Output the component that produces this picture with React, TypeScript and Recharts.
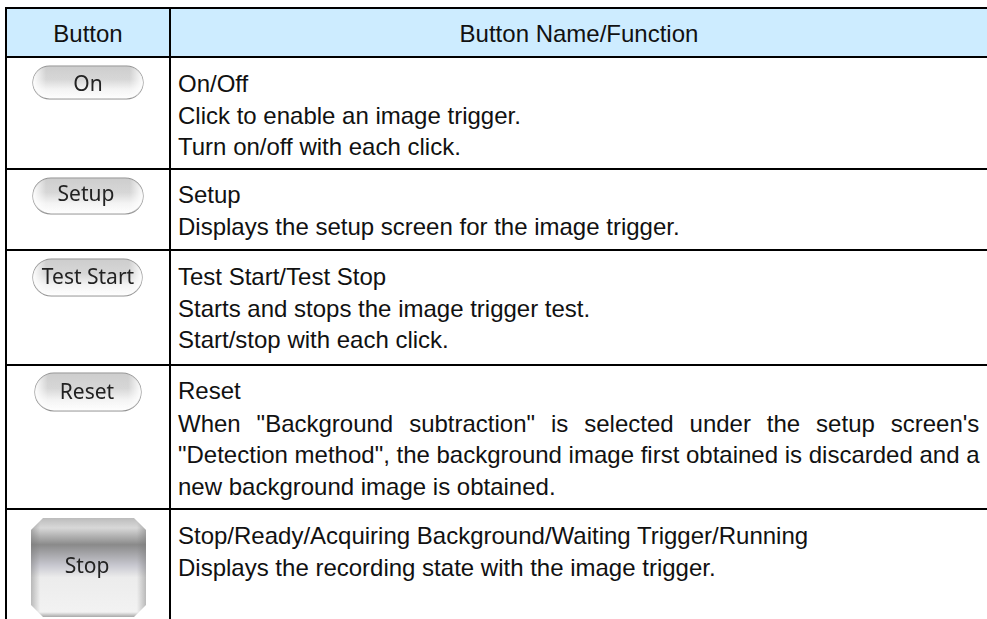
import React from "react";
import { ComposedChart, XAxis, YAxis, Scatter, ReferenceLine, ReferenceArea } from "recharts";

const W = 987;
const H = 619;

const headerLabels = ["Button", "Button Name/Function"];
const buttonLabels = ["On", "Setup", "Test Start", "Reset", "Stop"];
const descriptionLines = [
  "On/Off",
  "Click to enable an image trigger.",
  "Turn on/off with each click.",
  "Setup",
  "Displays the setup screen for the image trigger.",
  "Test Start/Test Stop",
  "Starts and stops the image trigger test.",
  "Start/stop with each click.",
  "Reset",
  "When \"Background subtraction\" is selected under the setup screen's",
  "\"Detection method\", the background image first obtained is discarded and a",
  "new background image is obtained.",
  "Stop/Ready/Acquiring Background/Waiting Trigger/Running",
  "Displays the recording state with the image trigger.",
];

// layout (image pixels; the axes run 1:1 with the picture)
const lineBaselines = [92, 124, 155, 203, 235, 285, 317, 348, 399, 432, 463, 495, 544, 576];
const rowRules = [8, 57, 169, 250, 365, 509];
const buttonBoxes = [
  { x0: 33, x1: 143, y0: 66, y1: 99, tx: 88, ty: 91 },
  { x0: 33, x1: 143, y0: 178, y1: 214, tx: 86, ty: 201 },
  { x0: 33, x1: 142, y0: 259, y1: 296, tx: 88, ty: 284 },
  { x0: 35, x1: 141, y0: 373, y1: 411, tx: 87, ty: 399 },
  { x0: 31, x1: 146, y0: 518, y1: 617, tx: 87, ty: 573 },
];

const textPoints = [
  ...descriptionLines.map((text, i) => ({
    x: 178,
    y: lineBaselines[i],
    text,
    anchor: "start",
    wordSpacing: i === 9 ? 9.25 : 0,
  })),
  { x: 88, y: 42, text: headerLabels[0], anchor: "middle", wordSpacing: 0 },
  { x: 579, y: 42, text: headerLabels[1], anchor: "middle", wordSpacing: 0 },
];

const buttonPoints = buttonLabels.map((label, i) => ({
  x: buttonBoxes[i].tx,
  y: buttonBoxes[i].ty,
  label,
  box: buttonBoxes[i],
}));

const TextShape = (p: any) => {
  const d = p.payload;
  return (
    <text
      x={p.cx}
      y={p.cy}
      textAnchor={d.anchor}
      fontFamily="'Liberation Sans', Arial, sans-serif"
      fontSize={24}
      fill="#111"
      style={{ wordSpacing: d.wordSpacing }}
    >
      {d.text}
    </text>
  );
};

const ButtonShape = (p: any) => {
  const d = p.payload;
  const b = d.box;
  const dx = p.cx - d.x;
  const dy = p.cy - d.y;
  const x = b.x0 + dx;
  const y = b.y0 + dy;
  const w = b.x1 - b.x0;
  const h = b.y1 - b.y0;
  const isStop = d.label === "Stop";
  const labelNode = (
    <text
      x={p.cx}
      y={p.cy}
      textAnchor="middle"
      fontFamily="'Noto Sans', sans-serif"
      fontSize={21}
      fill="#222"
      filter="url(#soft)"
    >
      {d.label}
    </text>
  );
  if (isStop) {
    const c = 12;
    const path = `M${x + c},${y} H${x + w - c} L${x + w},${y + c} V${y + h - c} L${x + w - c},${y + h} H${x + c} L${x},${y + h - c} V${y + c} Z`;
    return (
      <g>
        <g filter="url(#soft)">
          <path d={path} fill="url(#stopFill)" />
          <path d={path} fill="url(#stopSide)" />
        </g>
        {labelNode}
      </g>
    );
  }
  return (
    <g>
      <g filter="url(#soft)">
        <rect x={x} y={y} width={w} height={h} rx={h / 2} fill="url(#pillFill)" stroke="#8f8f8f" strokeWidth={1.2} />
        <rect x={x} y={y} width={w} height={h} rx={h / 2} fill="url(#pillEnds)" />
      </g>
      {labelNode}
    </g>
  );
};

export default function App() {
  return (
    <div style={{ position: "absolute", left: 0, top: 0, width: W, height: H, background: "#fff" }}>
      <ComposedChart width={W} height={H} margin={{ top: 0, right: 0, bottom: 0, left: 0 }}>
        <defs>
          <filter id="soft" x="-5%" y="-5%" width="110%" height="110%">
            <feGaussianBlur stdDeviation="0.5" />
          </filter>
          <linearGradient id="pillFill" x1="0" y1="0" x2="0" y2="1">
            <stop offset="0" stopColor="#c8c8c8" />
            <stop offset="0.4" stopColor="#d2d2d2" />
            <stop offset="0.7" stopColor="#f2f2f2" />
            <stop offset="1" stopColor="#ffffff" />
          </linearGradient>
          <linearGradient id="pillEnds" x1="0" y1="0" x2="1" y2="0">
            <stop offset="0" stopColor="#fff" stopOpacity="0.95" />
            <stop offset="0.12" stopColor="#fff" stopOpacity="0.1" />
            <stop offset="0.88" stopColor="#fff" stopOpacity="0.1" />
            <stop offset="1" stopColor="#fff" stopOpacity="0.95" />
          </linearGradient>
          <linearGradient id="stopFill" x1="0" y1="0" x2="0" y2="1">
            <stop offset="0" stopColor="#bcbcbc" />
            <stop offset="0.1" stopColor="#d8d8d8" />
            <stop offset="0.27" stopColor="#8a8a8a" />
            <stop offset="0.48" stopColor="#c8c8d0" />
            <stop offset="0.6" stopColor="#ececec" />
            <stop offset="0.95" stopColor="#f2f2f2" />
            <stop offset="1" stopColor="#a8a8a8" />
          </linearGradient>
          <linearGradient id="stopSide" x1="0" y1="0" x2="1" y2="0">
            <stop offset="0" stopColor="#777" stopOpacity="0.45" />
            <stop offset="0.08" stopColor="#777" stopOpacity="0" />
            <stop offset="0.92" stopColor="#777" stopOpacity="0" />
            <stop offset="1" stopColor="#777" stopOpacity="0.45" />
          </linearGradient>
        </defs>
        <XAxis type="number" dataKey="x" domain={[0, W]} hide />
        <YAxis type="number" dataKey="y" domain={[0, H]} reversed hide />
        <ReferenceArea x1={6} x2={W} y1={rowRules[0]} y2={rowRules[1]} fill="#cdecff" fillOpacity={1} stroke="none" />
        {rowRules.map((y) => (
          <ReferenceLine key={y} segment={[{ x: 5, y }, { x: W, y }]} stroke="#000" strokeWidth={2} />
        ))}
        <ReferenceLine segment={[{ x: 6, y: 7 }, { x: 6, y: H }]} stroke="#000" strokeWidth={2} />
        <ReferenceLine segment={[{ x: 170, y: 7 }, { x: 170, y: H }]} stroke="#000" strokeWidth={2} />
        <Scatter data={buttonPoints} shape={ButtonShape} isAnimationActive={false} />
        <Scatter data={textPoints} shape={TextShape} isAnimationActive={false} />
      </ComposedChart>
    </div>
  );
}
